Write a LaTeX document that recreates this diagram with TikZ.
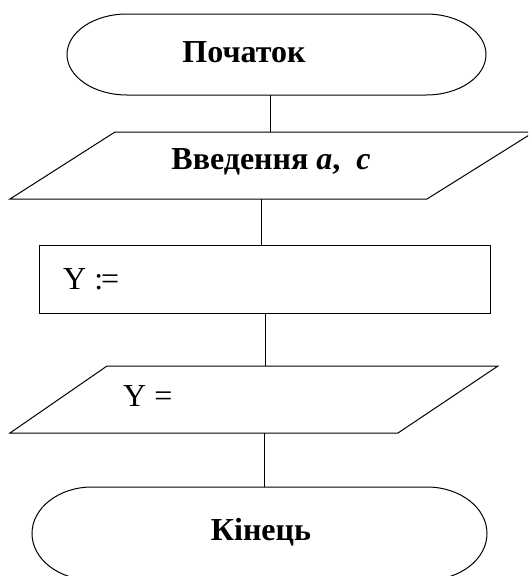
\documentclass[tikz,border=0pt]{standalone}
\usepackage{fontspec}
\setmainfont{Liberation Serif}
\begin{document}
\begin{tikzpicture}[x=1pt,y=-1pt,
    shape line/.style={draw=black,line width=1pt,line join=miter},
    link/.style={draw=black,line width=1pt},
    label big/.style={inner sep=0pt,font=\fontsize{32}{36}\selectfont},
    label bold/.style={label big,font=\bfseries\fontsize{32}{36}\selectfont}]
  \useasboundingbox (0,0) rectangle (528,576);
  \clip (0,0) rectangle (528,576);

  % start terminator
  \path[shape line] (127,14) -- (426,14)
    arc[start angle=-90,end angle=90,x radius=60,y radius=40.5]
    -- (127,95)
    arc[start angle=90,end angle=270,x radius=60,y radius=40.5] -- cycle;
  \node[label bold] (start) at (244,52) {Початок};
  \coordinate (startS) at (270,95);

  % input parallelogram
  \path[shape line] (115,132) -- (534,132) -- (427,199) -- (10,199) -- cycle;
  \node[label bold] (input) at (271,162) {Введення \textit{a},\ \ \textit{c}};
  \coordinate (inputN) at (270,132);
  \coordinate (inputS) at (261,199);

  % process box
  \path[shape line] (39,245) rectangle (490,313);
  \node[label big,anchor=west] (calc) at (63,279) {Y :\kern-2pt=};
  \coordinate (calcN) at (261,245);
  \coordinate (calcS) at (265,313);

  % output parallelogram
  \path[shape line] (107,366) -- (498,366) -- (398,433) -- (10,433) -- cycle;
  \node[label big,anchor=west] (output) at (123,396) {Y =};
  \coordinate (outputN) at (265,366);
  \coordinate (outputS) at (264,433);

  % end terminator
  \path[shape line] (92,487) -- (427,487)
    arc[start angle=-90,end angle=90,x radius=60,y radius=46.5]
    -- (92,580)
    arc[start angle=90,end angle=270,x radius=60,y radius=46.5] -- cycle;
  \node[label bold] (stop) at (261,532) {Кінець};
  \coordinate (stopN) at (264,487);

  % connectors
  \draw[link] (startS) -- (inputN);
  \draw[link] (inputS) -- (calcN);
  \draw[link] (calcS) -- (outputN);
  \draw[link] (outputS) -- (stopN);
\end{tikzpicture}
\end{document}
